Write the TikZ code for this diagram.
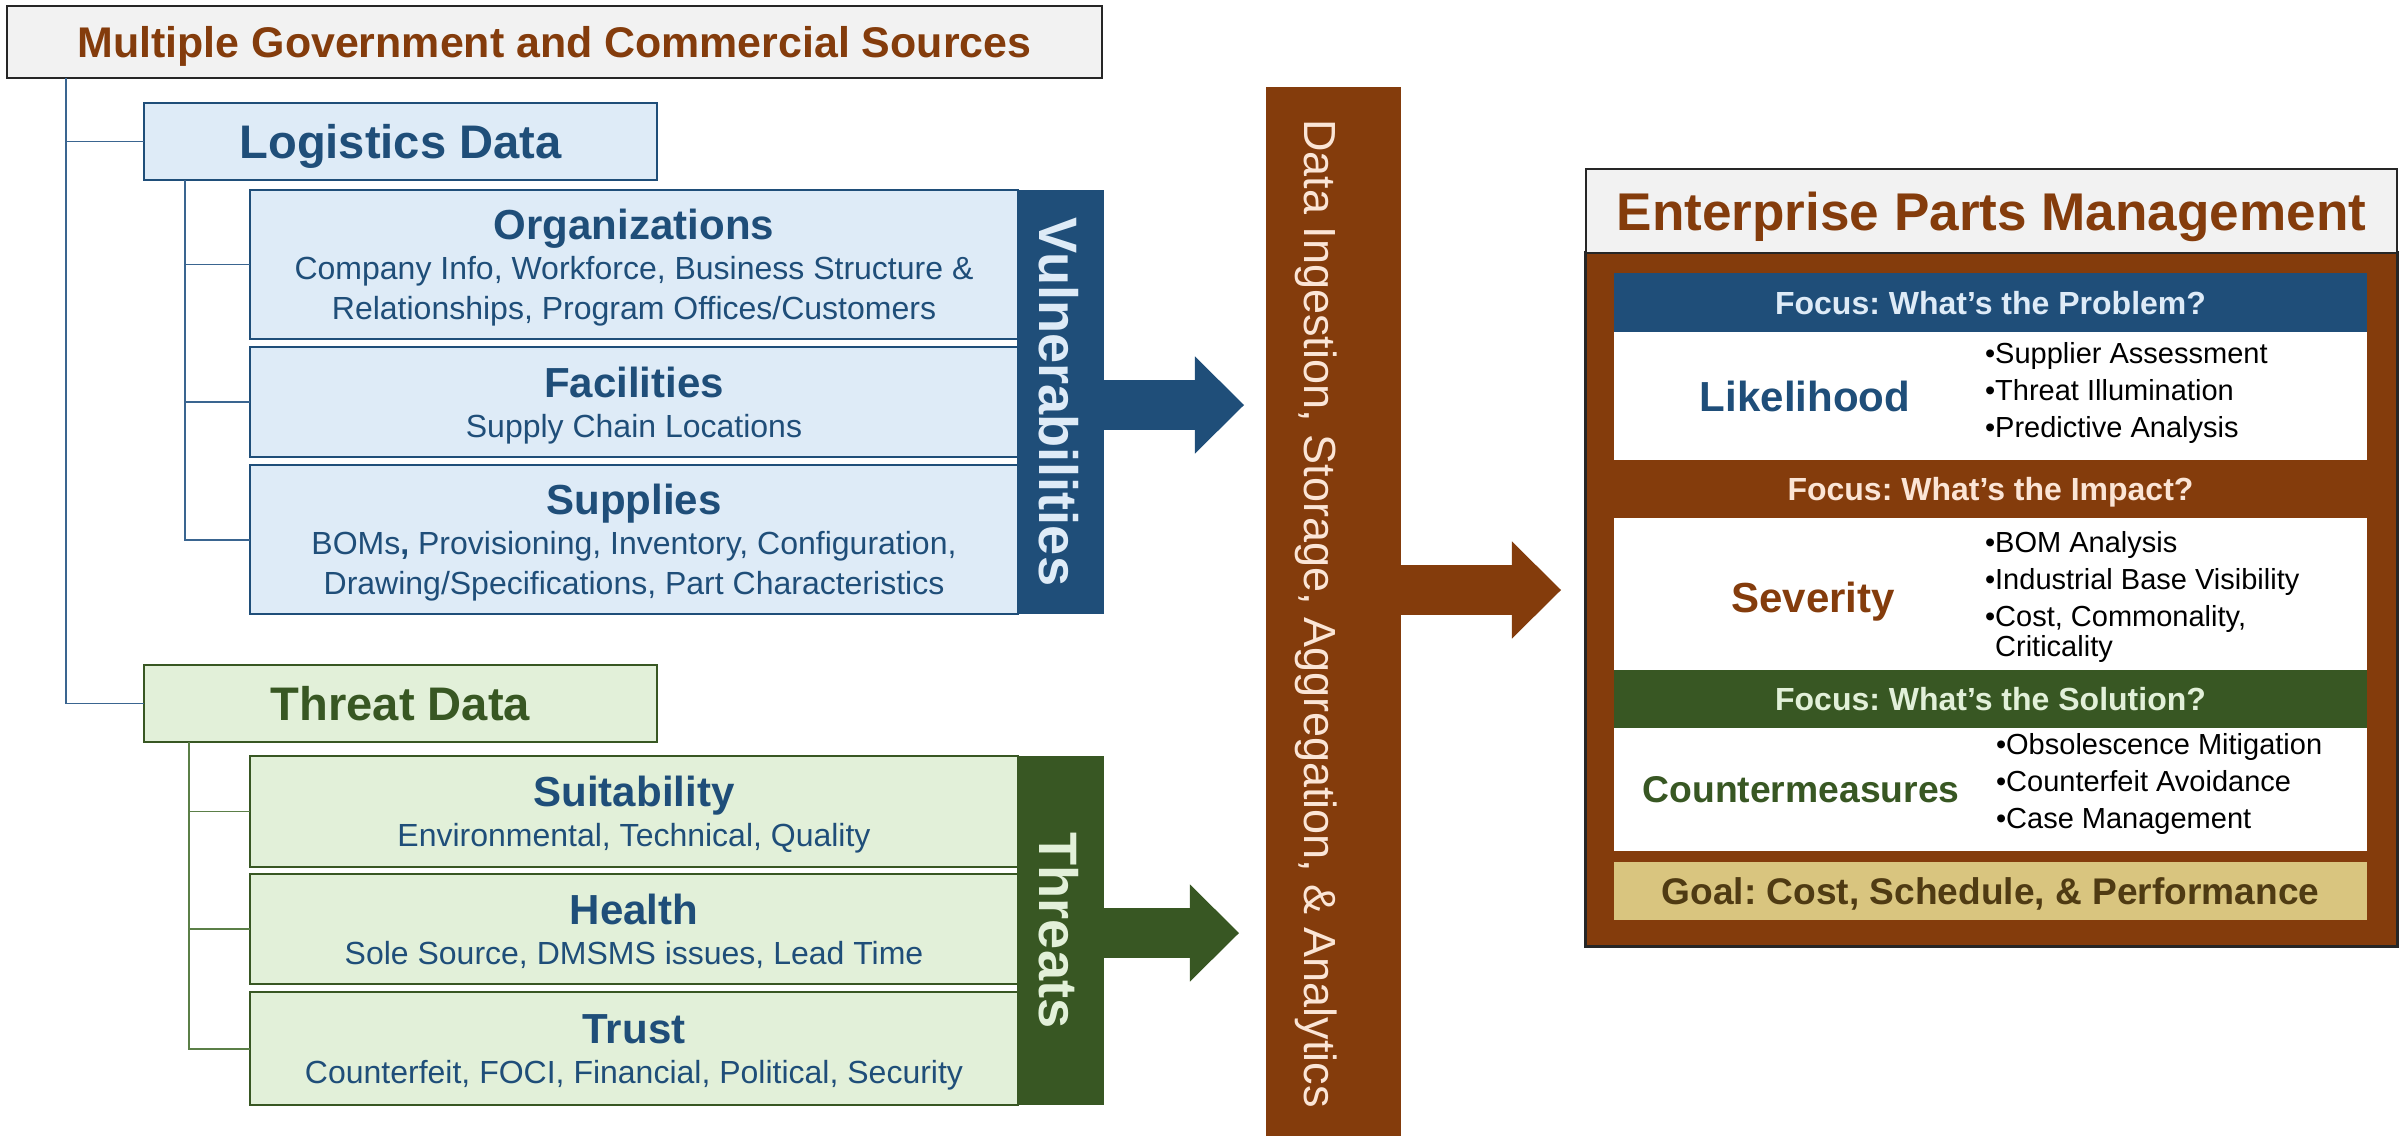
\documentclass[tikz,border=0pt]{standalone}
\usepackage{fontspec}
\setmainfont{Liberation Sans}
\usepackage{xcolor}
\usetikzlibrary{positioning}
\usetikzlibrary{arrows.meta}

\definecolor{epmbrown}{HTML}{843C0C}
\definecolor{vblue}{HTML}{1F4E79}
\definecolor{vfill}{HTML}{DEEBF7}
\definecolor{tgreen}{HTML}{385723}
\definecolor{tfill}{HTML}{E2F0D9}
\definecolor{peach}{HTML}{FBE5D6}
\definecolor{hdrgray}{HTML}{F2F2F2}
\definecolor{goaltan}{HTML}{D9C57F}
\definecolor{goaltext}{HTML}{4F3B13}
\definecolor{frame}{HTML}{262626}
\definecolor{bline}{HTML}{3A6590}
\definecolor{gline}{HTML}{5B7F47}

% fonts, sizes taken from the 2405px wide original
\newcommand{\srcfnt}{\bfseries\fontsize{12.2pt}{14.6pt}\selectfont}
\newcommand{\datafnt}{\bfseries\fontsize{13.4pt}{16pt}\selectfont}
\newcommand{\itemhead}{\bfseries\fontsize{11.95pt}{14.3pt}\selectfont}
\newcommand{\itemfnt}{\fontsize{9.1pt}{11.4pt}\selectfont}
\newcommand{\barfnt}{\bfseries\fontsize{15.4pt}{18pt}\selectfont}
\newcommand{\flowfnt}{\fontsize{12.8pt}{15pt}\selectfont}
\newcommand{\epmfnt}{\bfseries\fontsize{15.1pt}{18pt}\selectfont}
\newcommand{\focusfnt}{\bfseries\fontsize{9.1pt}{11pt}\selectfont}
\newcommand{\ratefnt}{\bfseries\fontsize{11.95pt}{14pt}\selectfont}
\newcommand{\cmfnt}{\bfseries\fontsize{10.6pt}{13pt}\selectfont}
\newcommand{\bulletfnt}{\fontsize{8.25pt}{10.5pt}\selectfont}
\newcommand{\goalfnt}{\bfseries\fontsize{10.55pt}{12.6pt}\selectfont}

\tikzset{blockarrow/.style = {line width=0.5cm, -{Triangle[length=0.49cm, width=0.97cm, line width=0pt]}}}

\begin{document}
\frenchspacing
\begin{tikzpicture}[x=0.01cm, y=-0.01cm,
    every node/.style={inner sep=0pt, outer sep=0pt},
    tree line/.style={line width=0.018cm},
    head box/.style={draw=frame, fill=hdrgray, line width=0.02cm, text=epmbrown, text depth=0pt},
    data box/.style={line width=0.02cm, minimum width=5.13cm, minimum height=0.77cm, font=\datafnt, text depth=0pt},
    item box/.style={line width=0.02cm, minimum width=7.68cm, align=center, text=vblue, font=\itemfnt, text depth=0pt},
    side bar/.style={rotate=-90, minimum height=0.87cm, font=\barfnt, text height=0.41cm, text depth=0pt},
    focus bar/.style={minimum width=7.53cm, minimum height=0.58cm, font=\focusfnt, text depth=0pt},
    rate box/.style={fill=white, minimum width=7.53cm},
    rate label/.style={font=\ratefnt},
    bullet list/.style={anchor=west, align=left, font=\bulletfnt}]
    \useasboundingbox (0,0) rectangle (2405,1136);

    % sources and logistics branch
    \node[head box, minimum width=10.95cm, minimum height=0.72cm, font=\srcfnt] (src) at (554.5,42) {Multiple Government and Commercial Sources};

    \node[data box, draw=vblue, fill=vfill, text=vblue] (logi) at (400.5,141.5) {Logistics Data};
    \node[item box, draw=vblue, fill=vfill, minimum height=1.49cm] (org) at (634,264.5) {{\itemhead Organizations}\\Company Info, Workforce, Business Structure \&\\Relationships, Program Offices/Customers};
    \node[item box, draw=vblue, fill=vfill, minimum height=1.10cm, below=0.08cm of org] (fac) {{\itemhead Facilities}\\Supply Chain Locations};
    \node[item box, draw=vblue, fill=vfill, minimum height=1.49cm, below=0.08cm of fac] (sup) {{\itemhead Supplies}\\BOMs\textbf{,} Provisioning, Inventory, Configuration,\\Drawing/Specifications, Part Characteristics};
    \node[side bar, fill=vblue, text=vfill, minimum width=4.24cm] (vuln) at (1060.5,402) {Vulnerabilities};

    % threat branch
    \node[data box, draw=tgreen, fill=tfill, text=tgreen] (thr) at (400.5,703.5) {Threat Data};
    \node[item box, draw=tgreen, fill=tfill, minimum height=1.11cm] (suit) at (634,811.5) {{\itemhead Suitability}\\Environmental, Technical, Quality};
    \node[item box, draw=tgreen, fill=tfill, minimum height=1.10cm, below=0.07cm of suit] (health) {{\itemhead Health}\\Sole Source, DMSMS issues, Lead Time};
    \node[item box, draw=tgreen, fill=tfill, minimum height=1.13cm, below=0.08cm of health] (trust) {{\itemhead Trust}\\Counterfeit, FOCI, Financial, Political, Security};
    \node[side bar, fill=tgreen, text=tfill, minimum width=3.49cm] (thrbar) at (1060.5,930.5) {Threats};

    \draw[tree line, draw=bline] ([xshift=0.59cm]src.south west) |- (logi.west);
    \draw[tree line, draw=bline] ([xshift=0.59cm]src.south west) |- (thr.west);
    \foreach \n in {org,fac,sup}
        \draw[tree line, draw=bline] ([xshift=0.41cm]logi.south west) |- (\n.west);
    \foreach \n in {suit,health,trust}
        \draw[tree line, draw=gline] ([xshift=0.45cm]thr.south west) |- (\n.west);

    % ingestion bar
    \node[rotate=-90, fill=epmbrown, text=peach, font=\flowfnt, minimum width=10.53cm, minimum height=1.35cm, text height=0.57cm, text depth=0pt] (ingest) at (1333.5,613.5) {Data Ingestion, Storage, Aggregation, \& Analytics};

    \coordinate (vtip) at (1244,405);
    \coordinate (ttip) at (1239,933);
    \coordinate (etip) at (1561,590);
    \draw[blockarrow, vblue] (vuln.north |- vtip) -- (vtip);
    \draw[blockarrow, tgreen] (thrbar.north |- ttip) -- (ttip);
    \draw[blockarrow, epmbrown] (ingest.north |- etip) -- (etip);

    % enterprise parts management
    \node[draw=frame, fill=epmbrown, line width=0.03cm, minimum width=8.11cm, minimum height=6.93cm] (epm) at (1991.5,599.5) {};
    \node[head box, minimum width=8.11cm, minimum height=0.84cm, font=\epmfnt] (epmtitle) at (1991.5,211) {Enterprise Parts Management};
    \node[focus bar, fill=vblue, text=vfill, minimum height=0.59cm] (fprob) at (1990.5,302.5) {Focus: What’s the Problem?};
    \node[rate box, minimum height=1.28cm, below=0pt of fprob] (like) {};
    \node[focus bar, text=peach, below=0pt of like] (fimp) {Focus: What’s the Impact?};
    \node[rate box, minimum height=1.52cm, below=0pt of fimp] (sev) {};
    \node[focus bar, fill=tgreen, text=tfill, below=0pt of sev] (fsol) {Focus: What’s the Solution?};
    \node[rate box, minimum height=1.23cm, below=0pt of fsol] (cm) {};
    \node[focus bar, fill=goaltan, text=goaltext, font=\goalfnt, below=0.11cm of cm] (goal) {Goal: Cost, Schedule, \& Performance};

    \node[rate label, text=vblue] (likename) at (1805,396) {Likelihood};
    \node[bullet list] (likelist) at (1985,393) {\textbullet Supplier Assessment\\\textbullet Threat Illumination\\\textbullet Predictive Analysis};
    \node[rate label, text=epmbrown] (sevname) at (1813,602) {Severity};
    \node[bullet list] (sevlist) at (1985,597) {\textbullet BOM Analysis\\\textbullet Industrial Base Visibility\\\textbullet Cost, Commonality,\\[-0.07cm]\phantom{\textbullet}Criticality};
    \node[rate label, text=tgreen, font=\cmfnt] (cmname) at (1801,790) {Countermeasures};
    \node[bullet list] (cmlist) at (1996,784) {\textbullet Obsolescence Mitigation\\\textbullet Counterfeit Avoidance\\\textbullet Case Management};
\end{tikzpicture}
\end{document}
